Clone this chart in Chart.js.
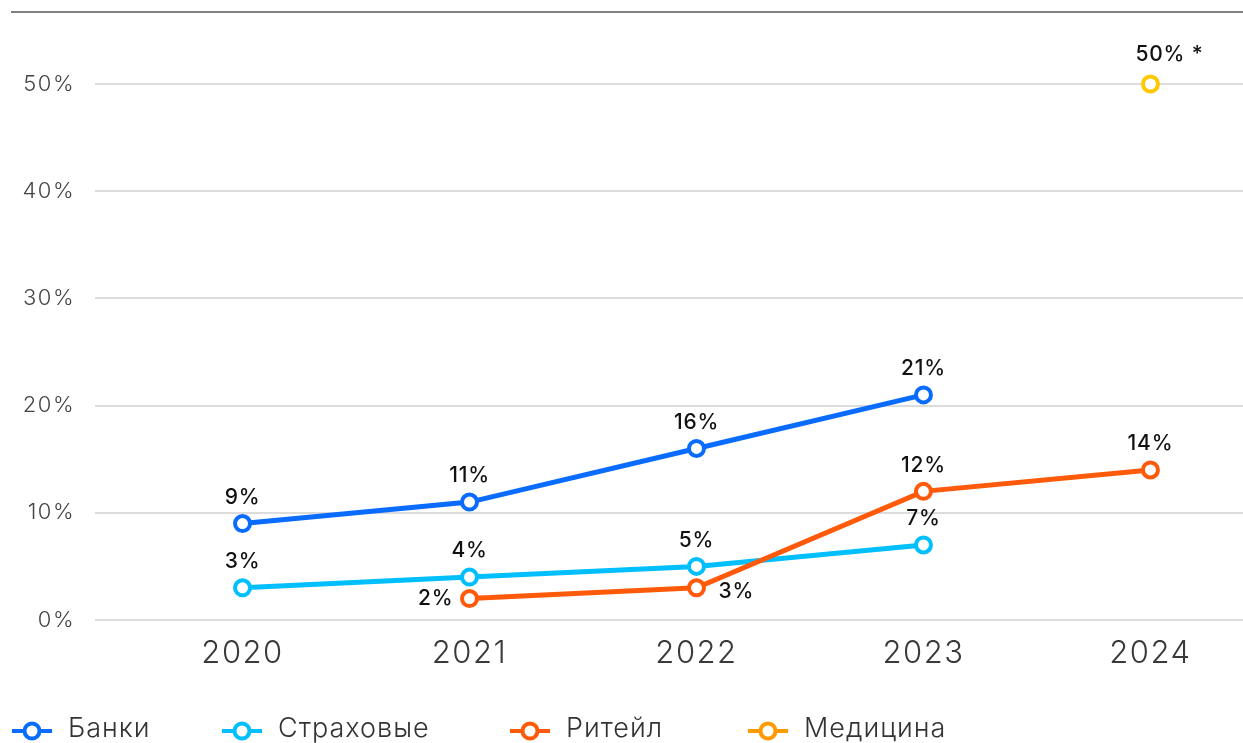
<!DOCTYPE html>
<html lang="ru">
<head>
<meta charset="utf-8">
<script src="https://cdn.jsdelivr.net/npm/chart.js@4"></script>
<style>
    html, body { margin: 0; padding: 0; background: #fff; overflow: hidden; }
    body { width: 1243px; height: 743px; position: relative; font-family: Inter, "Open Sans", sans-serif; }
    .top-rule { position: absolute; left: 11px; right: 0; top: 11px; height: 2px; background: #808080; }
    /* wider than the page: the point overflow padding on the right falls outside */
    .chart-box { position: absolute; left: 0; top: 0; width: 1255px; height: 743px; }
    .legend { position: absolute; left: 12px; top: 711px; display: flex; }
    .legend-item { display: flex; align-items: center; gap: 16px; font-weight: 300; font-size: 27px; letter-spacing: 1px; color: #333; }
    .legend-item:nth-child(1) { width: 210px; }
    .legend-item:nth-child(2) { width: 288px; }
    .legend-item:nth-child(3) { width: 238px; }
    .legend-item canvas { width: 40px; height: 24px; margin-top: 6px; }
</style>
</head>
<body>
<div class="chart-box"><canvas id="trendChart"></canvas></div>
<div class="top-rule"></div>
<div class="legend" id="legend"></div>

<script>
// Data
const years = [2020, 2021, 2022, 2023, 2024];
const yTicks = [0, 10, 20, 30, 40, 50];

const banks     = [9, 11, 16, 21, null];
const insurance = [3, 4, 5, 7, null];
const retail    = [null, 2, 3, 12, 14];
const medicine  = [null, null, null, null, 50];

const medicineNote = '*';

const seriesNames = ['Банки', 'Страховые', 'Ритейл', 'Медицина'];
const seriesColors = ['#0a6cff', '#00bfff', '#ff5a0a', '#ffc800'];
const legendColors = ['#0a6cff', '#00bfff', '#ff5a0a', '#ff9a00'];

const toPoints = vals => years
    .map((yr, i) => ({ x: yr, y: vals[i] }))
    .filter(p => p.y !== null);

// Wider letter spacing for axis text
const spacing = {
    id: 'spacing',
    beforeDraw(chart) { chart.ctx.letterSpacing = '1.5px'; }
};

// Inline value labels (no datalabels plugin offline)
const valueLabels = {
    id: 'valueLabels',
    afterDatasetsDraw(chart) {
        const ctx = chart.ctx;
        ctx.save();
        ctx.letterSpacing = '0.8px';
        ctx.font = '500 21px Inter, "Open Sans", sans-serif';
        ctx.fillStyle = '#111';
        ctx.textBaseline = 'middle';

        chart.data.datasets.forEach((ds, di) => {
            const meta = chart.getDatasetMeta(di);
            meta.data.forEach((pt, i) => {
                const v = ds.data[i].y;
                const txt = v + '%';
                const name = ds.label;

                if (name === 'Ритейл' && ds.data[i].x === 2021) {
                    ctx.textAlign = 'right';
                    ctx.fillText(txt, pt.x - 16, pt.y);
                } else if (name === 'Ритейл' && ds.data[i].x === 2022) {
                    ctx.textAlign = 'left';
                    ctx.fillText(txt, pt.x + 22, pt.y + 4);
                } else if (name === 'Медицина') {
                    ctx.textAlign = 'left';
                    ctx.fillText(txt + ' ' + medicineNote, pt.x - 15, pt.y - 29);
                } else {
                    ctx.textAlign = 'center';
                    ctx.fillText(txt, pt.x, pt.y - 26);
                }
            });
        });
        ctx.restore();
    }
};

function makeDataset(idx, vals, order) {
    const c = seriesColors[idx];
    return {
        label: seriesNames[idx],
        data: toPoints(vals),
        borderColor: c,
        backgroundColor: '#fff',
        borderWidth: 5,
        pointRadius: 7.5,
        pointHoverRadius: 7.5,
        pointBorderWidth: 4,
        pointBackgroundColor: '#fff',
        pointBorderColor: c,
        tension: 0,
        clip: false,
        order: order
    };
}

const tickFont = { family: 'Inter, "Open Sans", sans-serif', weight: 300 };

new Chart(document.getElementById('trendChart'), {
    type: 'line',
    data: {
        datasets: [
            makeDataset(0, banks, 1),
            makeDataset(1, insurance, 3),
            makeDataset(2, retail, 2),
            makeDataset(3, medicine, 0)
        ]
    },
    options: {
        responsive: true,
        maintainAspectRatio: false,
        animation: false,
        layout: { padding: { top: 84, bottom: 73, left: 0, right: 0 } },
        plugins: { legend: { display: false }, tooltip: { enabled: false } },
        scales: {
            x: {
                type: 'linear',
                min: 2019.35,
                max: 2024.41,
                afterBuildTicks: s => { s.ticks = years.map(v => ({ value: v })); },
                afterFit: s => { s.height = 50; s.paddingLeft = 0; s.paddingRight = 0; },
                grid: { display: false },
                border: { display: false },
                ticks: {
                    padding: 7,
                    color: '#3a3a3a',
                    font: { ...tickFont, size: 31 },
                    callback: v => String(v)
                }
            },
            y: {
                min: 0,
                max: 50,
                afterBuildTicks: s => { s.ticks = yTicks.map(v => ({ value: v })); },
                afterFit: s => { s.width = 95; },
                grid: { color: '#dcdcdc', lineWidth: 2, drawTicks: false },
                border: { display: false },
                ticks: {
                    padding: 20,
                    color: '#444',
                    font: { ...tickFont, size: 22 },
                    callback: v => v + '%'
                }
            }
        }
    },
    plugins: [spacing, valueLabels]
});

// Legend: line with an open circle, then the name
const legendEl = document.getElementById('legend');
seriesNames.forEach((name, i) => {
    const item = document.createElement('div');
    item.className = 'legend-item';
    const cv = document.createElement('canvas');
    cv.width = 40; cv.height = 24;
    const c = cv.getContext('2d');
    c.strokeStyle = legendColors[i];
    c.lineWidth = 4;
    c.beginPath(); c.moveTo(0, 12); c.lineTo(40, 12); c.stroke();
    c.beginPath(); c.arc(20, 12, 7.5, 0, Math.PI * 2);
    c.fillStyle = '#fff'; c.fill(); c.stroke();
    const label = document.createElement('span');
    label.textContent = name;
    item.appendChild(cv);
    item.appendChild(label);
    legendEl.appendChild(item);
});
</script>
</body>
</html>
